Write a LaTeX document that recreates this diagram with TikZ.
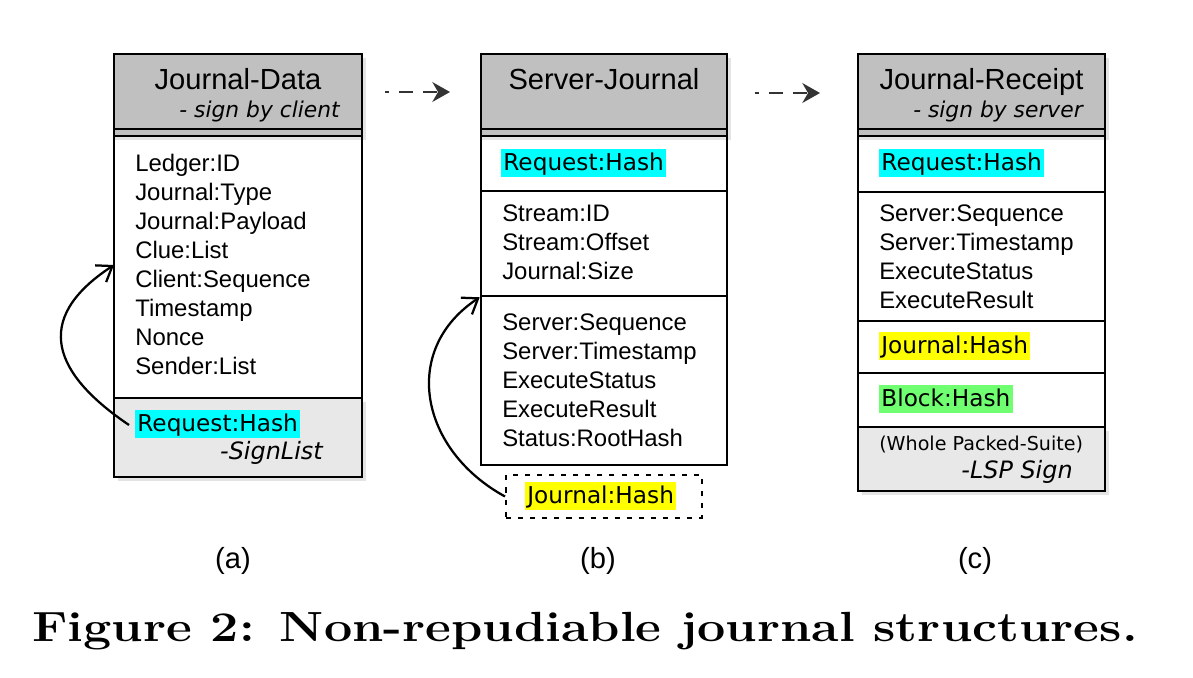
\documentclass[tikz,border=0pt]{standalone}
\usepackage{fontspec}
\newfontfamily\libsans{Liberation Sans}
\newfontfamily\dejavu{DejaVu Sans}
\usetikzlibrary{arrows.meta,fit}
\definecolor{hdr}{HTML}{C0C0C0}
\definecolor{ftr}{HTML}{E8E8E8}
\definecolor{shd}{HTML}{E4E4E4}
\definecolor{hcyan}{HTML}{00FFFF}
\definecolor{hyel}{HTML}{FFFF00}
\definecolor{hgrn}{HTML}{70FF70}
\definecolor{arr}{HTML}{333333}
\begin{document}
\begin{tikzpicture}[x=0.025cm,y=-0.025cm,
  sec/.style={draw=black, line width=1.8pt, inner sep=0pt, rectangle},
  shadowbox/.style={fill=shd, draw=none, inner sep=0pt, rectangle},
  divider/.style={line width=1.8pt},
  fld/.style={font=\libsans\fontsize{17}{20}\selectfont, anchor=base west, inner sep=0pt},
  ttl/.style={font=\libsans\fontsize{20.7}{24}\selectfont, anchor=base, inner sep=0pt},
  subttl/.style={font=\dejavu\itshape\fontsize{15.5}{18}\selectfont, anchor=base east, inner sep=0pt},
  hl/.style={font=\dejavu\fontsize{16.5}{20}\selectfont, anchor=north west, inner xsep=1.5pt, inner ysep=1pt, text height=13.9pt, text depth=4pt},
  sig/.style={font=\dejavu\itshape\fontsize{17}{20}\selectfont, anchor=base east, inner sep=0pt},
  small/.style={font=\dejavu\fontsize{13.6}{16}\selectfont, anchor=base west, inner sep=0pt},
  curv/.style={line width=1.6pt, -{Straight Barb[length=3.5mm,width=5mm]}},
  flow/.style={draw=arr, line width=2pt, dash pattern=on 9.96pt off 7.1pt, dash phase=7.1pt, -{Stealth[length=12.5pt,width=14pt,inset=4pt]}},
  lbl/.style={font=\libsans\fontsize{20.7}{24}\selectfont, anchor=base, inner sep=0pt},
  dotbox/.style={draw=black, line width=1.4pt, dash pattern=on 3.6pt off 5pt, inner sep=0pt, rectangle}
]
\useasboundingbox (0,0) rectangle (1193,678);

% ---------- shadows ----------
\node[shadowbox, fit={(118,58) (366,140)}] (shHA) {};
\node[shadowbox, fit={(118,402) (366,481)}] (shFA) {};
\node[shadowbox, fit={(485,58) (731,140)}] (shHB) {};
\node[shadowbox, fit={(862,58) (1109,140)}] (shHC) {};
\node[shadowbox, fit={(862,431) (1109,495)}] (shFC) {};

% ---------- body sections ----------
\node[sec, fill=white, fit={(114,136) (362,398)}] (bodyA) {};
\node[sec, fill=white, fit={(481,136) (727,191)}] (reqB) {};
\node[sec, fill=white, fit={(481,191) (727,296)}] (strB) {};
\node[sec, fill=white, fit={(481,296) (727,465)}] (srvB) {};
\node[sec, fill=white, fit={(858,136) (1105,192)}] (reqC) {};
\node[sec, fill=white, fit={(858,192) (1105,321)}] (srvC) {};
\node[sec, fill=white, fit={(858,321) (1105,373)}] (jhC) {};
\node[sec, fill=white, fit={(858,373) (1105,427)}] (bhC) {};

% header shadow bands inside bodies
\fill[shd] (115.3,137.3) rectangle (360.7,140);
\fill[shd] (482.3,137.3) rectangle (725.7,140);
\fill[shd] (859.3,137.3) rectangle (1103.7,140);

% ---------- headers ----------
\node[sec, fill=hdr, fit={(114,54) (362,136)}] (hdrA) {};
\node[sec, fill=hdr, fit={(481,54) (727,136)}] (hdrB) {};
\node[sec, fill=hdr, fit={(858,54) (1105,136)}] (hdrC) {};
\draw[divider] (114,129) -- (362,129);
\draw[divider] (481,129) -- (727,129);
\draw[divider] (858,129) -- (1105,129);

% ---------- footers ----------
\node[sec, fill=ftr, fit={(114,398) (362,477)}] (ftA) {};
\node[sec, fill=ftr, fit={(858,427) (1105,491)}] (ftC) {};

% ---------- dotted box ----------
\node[dotbox, fit={(506,475) (702,518)}] (jbox) {};

% ---------- titles ----------
\node[ttl] (tA) at (238,89) {Journal-Data};
\node[subttl] (sA) at (340,117) {- sign by client};
\node[ttl] (tB) at (604,89) {Server-Journal};
\node[ttl] (tC) at (981.5,89) {Journal-Receipt};
\node[subttl] (sC) at (1083,117) {- sign by server};

% ---------- fields (a) ----------
\foreach \t [count=\i] in {Ledger:ID, Journal:Type, Journal:Payload, Clue:List, Client:Sequence, Timestamp, Nonce, Sender:List}
  \node[fld] (fa\i) at (135,{171+29*(\i-1)}) {\t};
\node[hl, fill=hcyan] (reqAt) at (135,410) {Request:Hash};
\node[sig] (sigA) at (323,459) {-SignList};

% ---------- fields (b) ----------
\node[hl, fill=hcyan] (reqBt) at (501,149) {Request:Hash};
\foreach \t [count=\i] in {Stream:ID, Stream:Offset, Journal:Size}
  \node[fld] (fb\i) at (502,{221+29*(\i-1)}) {\t};
\foreach \t [count=\i] in {Server:Sequence, Server:Timestamp, ExecuteStatus, ExecuteResult, Status:RootHash}
  \node[fld] (gb\i) at (502,{330+29*(\i-1)}) {\t};
\node[hl, fill=hyel] (jhBt) at (525,482) {Journal:Hash};

% ---------- fields (c) ----------
\node[hl, fill=hcyan] (reqCt) at (879,149) {Request:Hash};
\foreach \t [count=\i] in {Server:Sequence, Server:Timestamp, ExecuteStatus, ExecuteResult}
  \node[fld] (fc\i) at (879,{221+29*(\i-1)}) {\t};
\node[hl, fill=hyel] (jhCt) at (879,332) {Journal:Hash};
\node[hl, fill=hgrn] (bhCt) at (879,385) {Block:Hash};
\node[small] (wps) at (879,450) {(Whole Packed-Suite)};
\node[sig] (sigC) at (1073,478) {-LSP Sign};

% ---------- curved arrows ----------
\coordinate (ca0) at (129,425);
\coordinate (ca1) at (114,265);
\draw[curv] (ca0) .. controls (55,375) and (30,320) .. (ca1);
\draw[curv] (jbox.west) .. controls (420,450) and (400,350) .. (strB.south west);

% ---------- flow arrows ----------
\coordinate (f1s) at (385,92);
\coordinate (f1e) at (450,92);
\coordinate (f2s) at (755,93);
\coordinate (f2e) at (820,93);
\draw[flow] (f1s) -- (f1e);
\draw[flow] (f2s) -- (f2e);

% ---------- labels ----------
\node[lbl] (la) at (233,568) {(a)};
\node[lbl] (lb) at (598,568) {(b)};
\node[lbl] (lc) at (975,568) {(c)};
\node[anchor=base, inner sep=0pt, font=\rmfamily\bfseries\fontsize{30}{36}\selectfont] (cap) at (585,641) {\scalebox{1.19}[1]{Figure 2:\hspace{0.5em}Non-repudiable journal structures.}};
\end{tikzpicture}
\end{document}
